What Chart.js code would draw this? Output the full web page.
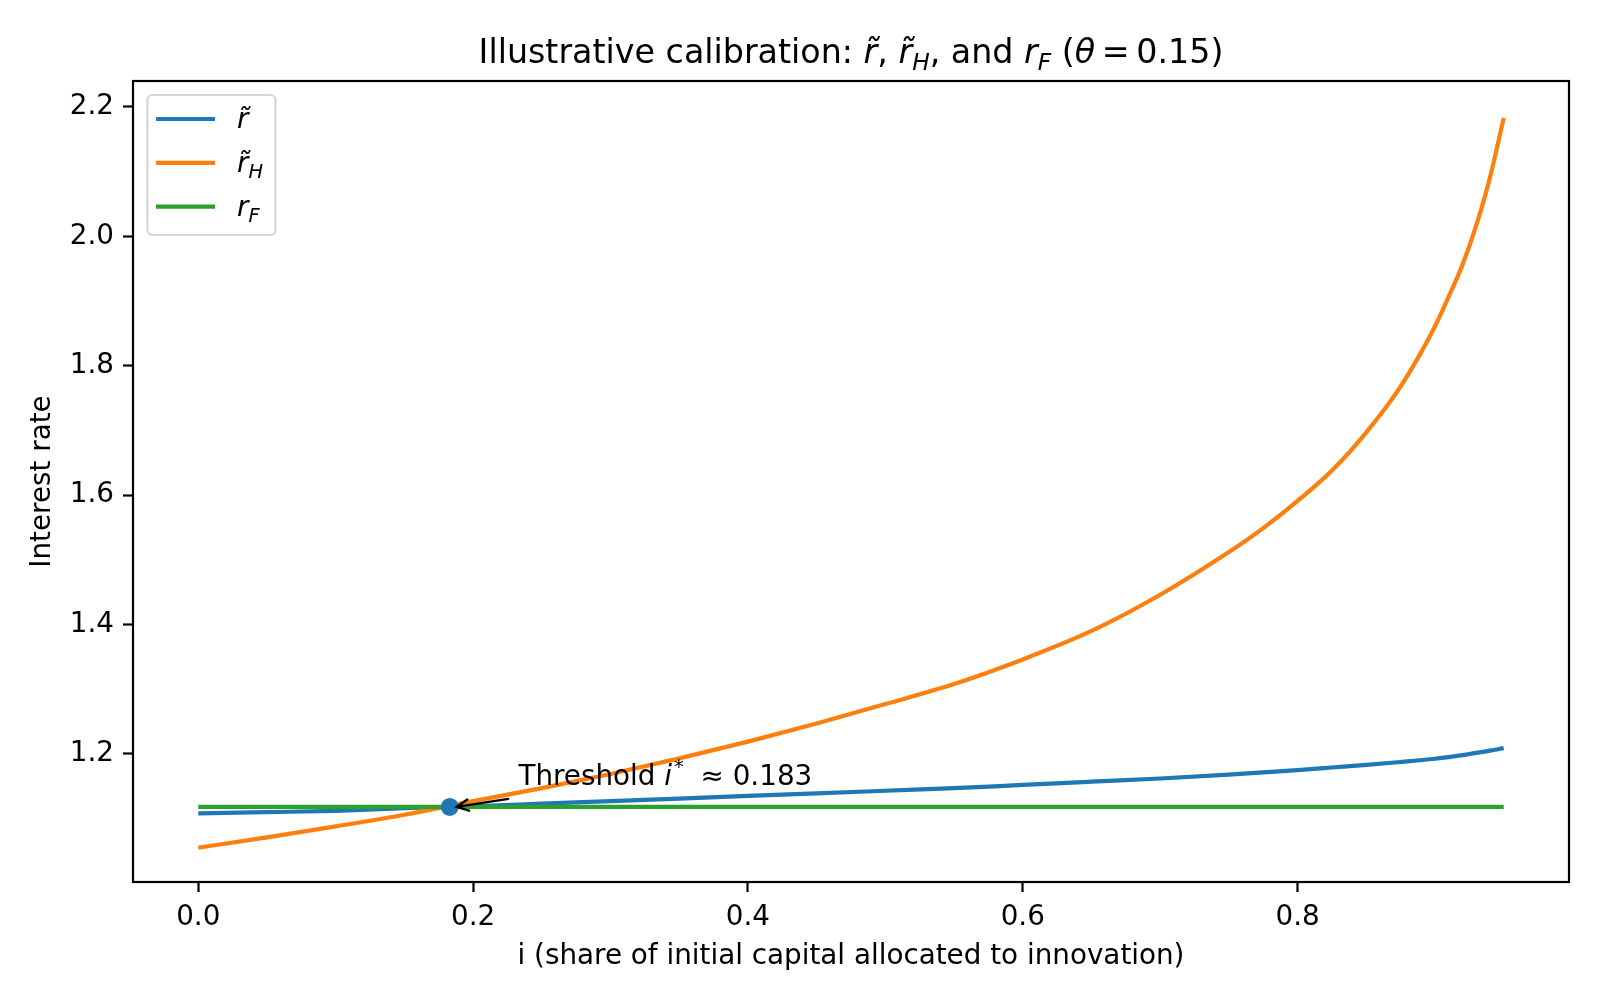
<!DOCTYPE html>
<html>
<head>
<meta charset="utf-8">
<script src="https://cdn.jsdelivr.net/npm/chart.js@4.4.1/dist/chart.umd.min.js"></script>
<style>
  html, body { margin: 0; padding: 0; background: #fff; }
  #wrap { width: 1600px; height: 1000px; }
</style>
</head>
<body>
<div id="wrap"><canvas id="rateChart" width="1600" height="1000"></canvas></div>
<script>
// Illustrative calibration - r~, r~_H and r_F against i

// share of initial capital allocated to innovation
const iGrid = [0, 0.05, 0.1, 0.15, 0.2, 0.25, 0.3, 0.35, 0.4, 0.45, 0.5, 0.55, 0.6, 0.65, 0.7, 0.75, 0.775, 0.8, 0.825, 0.85, 0.875, 0.9, 0.91, 0.92, 0.93, 0.94, 0.95];

// r tilde (blue)
const rTilde = [1.108, 1.110, 1.112, 1.116, 1.119, 1.123, 1.127, 1.131, 1.135, 1.139, 1.143, 1.147, 1.152, 1.157, 1.162, 1.168, 1.1715, 1.175, 1.179, 1.183, 1.1875, 1.1925, 1.195, 1.198, 1.2015, 1.205, 1.209];

// r tilde H (orange)
const rTildeH = [1.055, 1.071, 1.088, 1.106, 1.127, 1.147, 1.169, 1.193, 1.219, 1.247, 1.277, 1.308, 1.346, 1.390, 1.446, 1.512, 1.549, 1.591, 1.638, 1.697, 1.768, 1.861, 1.907, 1.956, 2.017, 2.091, 2.183];

// r_F (green, flat)
const rF = [1.118, 1.118, 1.118, 1.118, 1.118, 1.118, 1.118, 1.118, 1.118, 1.118, 1.118, 1.118, 1.118, 1.118, 1.118, 1.118, 1.118, 1.118, 1.118, 1.118, 1.118, 1.118, 1.118, 1.118, 1.118, 1.118, 1.118];

// threshold point
const iStar = [0.183];
const rStar = [1.118];

// ticks
const xTickVals = [0.0, 0.2, 0.4, 0.6, 0.8];
const yTickVals = [1.2, 1.4, 1.6, 1.8, 2.0, 2.2];

const FONT = "'DejaVu Sans', 'Liberation Sans', sans-serif";
const FS = 27.8;

const BLUE = '#1f77b4';
const ORANGE = '#ff7f0e';
const GREEN = '#2ca02c';

function toPoints(xs, ys) {
    return xs.map((x, k) => ({ x: x, y: ys[k] }));
}

// draw a run of text pieces (plain / italic / sub / sup)
function drawRich(ctx, parts, x, y, size, align) {
    const pieceFont = p => {
        const s = (p.sub || p.sup) ? size * 0.7 : size;
        return (p.italic ? 'oblique ' : '') + s + 'px ' + FONT;
    };
    let total = 0;
    parts.forEach(p => {
        ctx.font = pieceFont(p);
        p.w = ctx.measureText(p.t).width;
        total += p.w + (p.gap || 0);
    });
    let cx = x;
    if (align === 'center') cx = x - total / 2;
    ctx.textAlign = 'left';
    ctx.textBaseline = 'alphabetic';
    parts.forEach(p => {
        ctx.font = pieceFont(p);
        let dy = 0;
        if (p.sub) dy = size * 0.22;
        if (p.sup) dy = -size * 0.42;
        ctx.fillText(p.t, cx + (p.pre || 0), y + dy);
        cx += p.w + (p.gap || 0) + (p.pre || 0);
    });
}

const decorPlugin = {
    id: 'decor',
    afterDatasetsDraw(chart) {
        const ctx = chart.ctx;
        const a = chart.chartArea;
        const xs = chart.scales.x;
        const ys = chart.scales.y;
        ctx.save();

        // axes frame
        ctx.strokeStyle = '#000';
        ctx.lineWidth = 2.2;
        ctx.strokeRect(a.left, a.top, a.right - a.left, a.bottom - a.top);

        ctx.fillStyle = '#000';

        // title
        drawRich(ctx, [
            { t: 'Illustrative calibration: ' },
            { t: 'r\u0303', italic: true },
            { t: ', ' },
            { t: 'r\u0303', italic: true },
            { t: 'H', italic: true, sub: true },
            { t: ', and ' },
            { t: 'r', italic: true },
            { t: 'F', italic: true, sub: true },
            { t: ' (' },
            { t: '\u03b8', italic: true },
            { t: '\u2009=\u20090.15)' }
        ], (a.left + a.right) / 2, 63, 33.3, 'center');

        // axis titles
        ctx.font = FS + 'px ' + FONT;
        ctx.textAlign = 'center';
        ctx.textBaseline = 'middle';
        ctx.fillText('i (share of initial capital allocated to innovation)', (a.left + a.right) / 2, 957);
        ctx.save();
        ctx.translate(43, (a.top + a.bottom) / 2);
        ctx.rotate(-Math.PI / 2);
        ctx.fillText('Interest rate', 0, 0);
        ctx.restore();

        // threshold annotation
        const tx = xs.getPixelForValue(0.233);
        const ty = ys.getPixelForValue(1.152);
        drawRich(ctx, [
            { t: 'Threshold ' },
            { t: 'i', italic: true },
            { t: '*', sup: true, pre: 2, gap: 8 },
            { t: ' \u2248 0.183' }
        ], tx, ty, FS, 'left');

        // arrow towards the threshold point
        const sx = xs.getPixelForValue(0.2256);
        const sy = ys.getPixelForValue(1.1306);
        const ex = xs.getPixelForValue(0.188);
        const ey = ys.getPixelForValue(1.118);
        ctx.strokeStyle = '#000';
        ctx.lineWidth = 2.3;
        ctx.lineCap = 'round';
        ctx.beginPath();
        ctx.moveTo(sx, sy);
        ctx.lineTo(ex, ey);
        const ang = Math.atan2(sy - ey, sx - ex);
        const hl = 13, hw = 0.45;
        ctx.moveTo(ex + hl * Math.cos(ang + hw), ey + hl * Math.sin(ang + hw));
        ctx.lineTo(ex, ey);
        ctx.lineTo(ex + hl * Math.cos(ang - hw), ey + hl * Math.sin(ang - hw));
        ctx.stroke();

        // legend
        const lx = 147.5, ly = 95, lw = 128, lh = 140;
        ctx.globalAlpha = 0.8;
        ctx.fillStyle = '#fff';
        ctx.strokeStyle = '#cccccc';
        ctx.lineWidth = 2.2;
        ctx.beginPath();
        ctx.roundRect(lx, ly, lw, lh, 5);
        ctx.fill();
        ctx.stroke();
        ctx.globalAlpha = 1;
        const rows = [
            { color: BLUE, parts: [{ t: 'r\u0303', italic: true }] },
            { color: ORANGE, parts: [{ t: 'r\u0303', italic: true }, { t: 'H', italic: true, sub: true }] },
            { color: GREEN, parts: [{ t: 'r', italic: true }, { t: 'F', italic: true, sub: true }] }
        ];
        rows.forEach((r, k) => {
            const ry = 119 + k * 43.8;
            ctx.strokeStyle = r.color;
            ctx.lineWidth = 4.2;
            ctx.lineCap = 'butt';
            ctx.beginPath();
            ctx.moveTo(156, ry);
            ctx.lineTo(215, ry);
            ctx.stroke();
            ctx.fillStyle = '#000';
            drawRich(ctx, r.parts, 237, ry + 9, FS, 'left');
        });

        ctx.restore();
    }
};

Chart.defaults.font.family = FONT;
Chart.defaults.font.size = FS;
Chart.defaults.color = '#000';

const lineStyle = {
    pointRadius: 0,
    borderWidth: 4.2,
    fill: false,
    cubicInterpolationMode: 'monotone'
};

const chart = new Chart(document.getElementById('rateChart'), {
    type: 'line',
    data: {
        datasets: [
            Object.assign({ label: 'r~', data: toPoints(iGrid, rTilde), borderColor: BLUE, order: 4 }, lineStyle),
            Object.assign({ label: 'r~_H', data: toPoints(iGrid, rTildeH), borderColor: ORANGE, order: 3 }, lineStyle),
            Object.assign({ label: 'r_F', data: toPoints(iGrid, rF), borderColor: GREEN, order: 2 }, lineStyle),
            {
                label: 'threshold',
                data: toPoints(iStar, rStar),
                showLine: false,
                pointRadius: 9,
                pointBorderWidth: 0,
                pointBackgroundColor: BLUE,
                borderColor: BLUE,
                order: 1
            }
        ]
    },
    options: {
        responsive: false,
        animation: false,
        events: [],
        layout: { padding: { top: 81, right: 31, left: 0, bottom: 0 } },
        plugins: {
            legend: { display: false },
            title: { display: false },
            tooltip: { enabled: false }
        },
        scales: {
            x: {
                type: 'linear',
                min: -0.0475,
                max: 0.9975,
                afterBuildTicks: s => { s.ticks = xTickVals.map(v => ({ value: v })); },
                afterFit: s => { s.height = 118; },
                ticks: {
                    padding: 9,
                    maxRotation: 0,
                    autoSkip: false,
                    callback: v => Number(v).toFixed(1)
                },
                grid: { drawOnChartArea: false, drawTicks: true, tickLength: 10, tickWidth: 2.2, tickColor: '#000', color: '#000' },
                border: { display: false }
            },
            y: {
                type: 'linear',
                min: 1.002,
                max: 2.24,
                afterBuildTicks: s => { s.ticks = yTickVals.map(v => ({ value: v })); },
                afterFit: s => { s.width = 133; },
                ticks: {
                    padding: 9,
                    autoSkip: false,
                    callback: v => Number(v).toFixed(1)
                },
                grid: { drawOnChartArea: false, drawTicks: true, tickLength: 10, tickWidth: 2.2, tickColor: '#000', color: '#000' },
                border: { display: false }
            }
        }
    },
    plugins: [decorPlugin]
});
</script>
</body>
</html>
